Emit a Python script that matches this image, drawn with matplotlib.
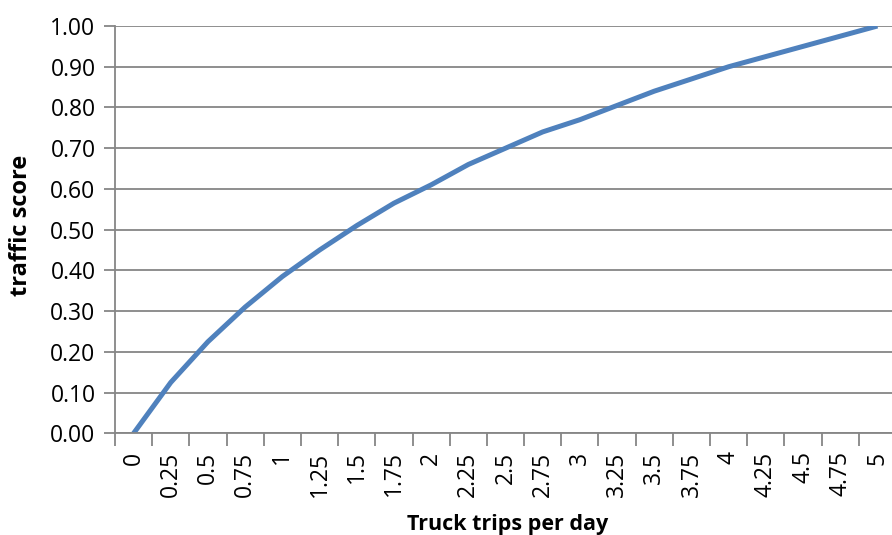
import matplotlib.pyplot as plt

# Données
trajets = ['0', '0.25', '0.5', '0.75', '1', '1.25', '1.5', '1.75', '2', '2.25', '2.5',
           '2.75', '3', '3.25', '3.5', '3.75', '4', '4.25', '4.5', '4.75', '5']
score = [0.00, 0.125, 0.225, 0.31, 0.385, 0.45, 0.51, 0.565, 0.61, 0.66, 0.70,
         0.74, 0.77, 0.805, 0.84, 0.87, 0.90, 0.925, 0.95, 0.975, 1.00]
graduations_y = [0.0, 0.1, 0.2, 0.3, 0.4, 0.5, 0.6, 0.7, 0.8, 0.9, 1.0]

plt.rcParams['font.family'] = ['Open Sans', 'DejaVu Sans']
gris = '#868686'

fig = plt.figure(figsize=(8.92, 5.35), dpi=100)
ax = fig.add_axes([0.1289, 0.19, 0.8756, 0.7614])

pos = list(range(len(trajets)))
ax.plot(pos, score, color='#4F81BD', linewidth=3.6, solid_joinstyle='round',
        solid_capstyle='butt')

ax.set_xlim(-0.5, len(trajets) - 0.5)
ax.set_ylim(0, 1.0)
ax.set_yticks(graduations_y)
ax.set_yticklabels([f'{v:.2f}' for v in graduations_y], fontsize=16.5)
ax.yaxis.grid(True, color=gris, linewidth=1.3)
ax.set_axisbelow(True)

# graduations entre les catégories, étiquettes au centre
ax.set_xticks([p - 0.5 for p in pos] + [len(trajets) - 0.5])
ax.set_xticklabels([])
ax.set_xticks(pos, minor=True)
ax.set_xticklabels(trajets, minor=True, rotation=90, fontsize=16.5, va='top', ha='center')
ax.tick_params(axis='x', which='minor', length=0, pad=13)
ax.tick_params(axis='x', which='major', length=9, width=1.3, color=gris)
ax.tick_params(axis='y', length=8, width=1.3, color=gris, pad=6)

for cote in ['top', 'right']:
    ax.spines[cote].set_visible(False)
for cote in ['left', 'bottom']:
    ax.spines[cote].set_color(gris)
    ax.spines[cote].set_linewidth(1.3)

# titres des axes
fig.text(507.5 / 892, 5 / 535, 'Truck trips per day', fontsize=15.5, fontweight='bold',
         ha='center', va='baseline')
fig.text(21 / 892, 1 - 225 / 535, 'traffic score', fontsize=17, fontweight='bold',
         rotation=90, ha='center', va='center')

fig.savefig('out.png', dpi=100)
